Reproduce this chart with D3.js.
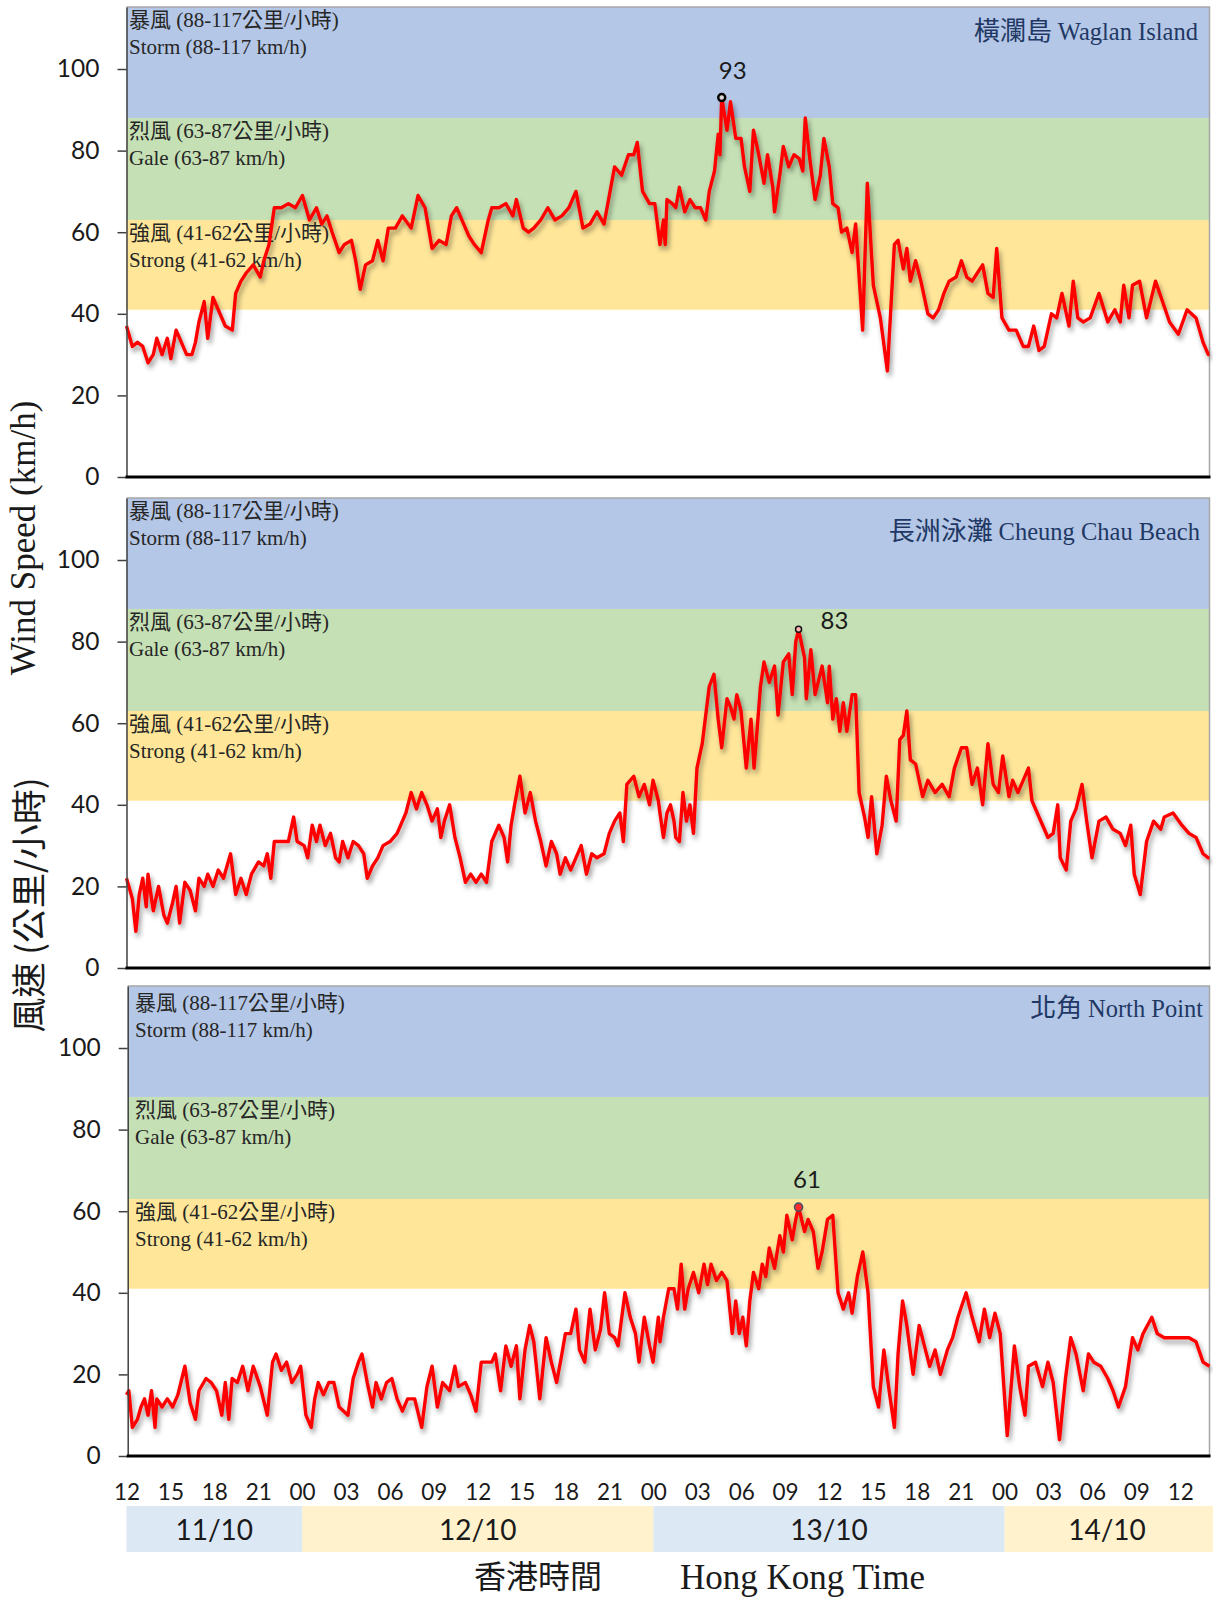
<!DOCTYPE html>
<html>
<head>
<meta charset="utf-8">
<script src="https://cdn.jsdelivr.net/npm/d3@7"></script>
<style>
  html, body { margin: 0; padding: 0; background: #ffffff; }
  svg { display: block; }
</style>
</head>
<body>
<svg id="chart" width="1213" height="1599"></svg>
<script>
// Wind speed (km/h) as [hours after 11/10 12:00 HKT, speed] pairs, to 14/10 14:00
const SPAN_HOURS = 74;

const waglan = [
  [0,37],[0.4,32],[0.75,33],[1.11,32],[1.47,28],[1.83,30],[2.07,34],[2.43,30],[2.79,34],[3.03,29],
  [3.39,36],[3.75,33],[4.11,30],[4.47,30],[4.71,33],[4.95,38],[5.31,43],[5.55,34],[5.91,44],[6.27,41],
  [6.75,37],[7.23,36],[7.46,45],[7.82,48],[8.18,50],[8.66,52],[9.14,49],[9.38,53],[9.74,57],[10.1,66],
  [10.58,66],[11.06,67],[11.54,66],[12.02,69],[12.5,63],[12.98,66],[13.34,62],[13.7,64],[14.05,60],[14.53,55],
  [14.89,57],[15.37,58],[15.66,53],[15.97,46],[16.33,52],[16.81,53],[17.17,58],[17.53,53],[17.89,61],[18.37,61],
  [18.85,64],[19.45,61],[19.92,69],[20.4,66],[20.88,56],[21.36,58],[21.84,57],[22.2,64],[22.56,66],[23.04,62],
  [23.4,59],[23.76,57],[24.24,55],[24.72,63],[24.96,66],[25.44,66],[25.92,67],[26.4,64],[26.64,68],[27.11,61],
  [27.47,60],[27.83,61],[28.31,63],[28.79,66],[29.27,63],[29.75,64],[30.23,66],[30.71,70],[31.19,61],[31.67,62],
  [32.15,65],[32.63,62],[32.99,69],[33.35,76],[33.83,74],[34.3,79],[34.66,79],[34.9,82],[35.26,70],[35.74,67],
  [36.1,67],[36.45,57],[36.69,63],[36.81,57],[36.93,68],[37.29,67],[37.53,66],[37.78,71],[38.14,65],[38.5,68],
  [38.86,66],[39.22,66],[39.58,63],[39.82,70],[40.18,75],[40.43,84],[40.55,79],[40.67,93],[41.03,85],[41.27,92],
  [41.63,83],[41.99,83],[42.23,76],[42.59,70],[42.84,85],[43.2,79],[43.56,72],[43.8,79],[44.16,71],[44.28,65],
  [44.64,74],[44.88,81],[45.25,76],[45.61,79],[45.97,78],[46.21,75],[46.38,88],[46.69,78],[47.05,68],[47.41,74],
  [47.65,83],[48.02,76],[48.26,67],[48.62,66],[48.86,60],[49.22,61],[49.58,55],[49.82,62],[50.3,36],[50.62,72],
  [51.03,47],[51.51,39],[51.99,26],[52.47,57],[52.72,58],[53.08,51],[53.32,56],[53.56,48],[53.92,53],[54.28,48],
  [54.76,40],[55.12,39],[55.49,41],[55.85,45],[56.21,48],[56.69,49],[57.05,53],[57.41,49],[57.78,48],[58.14,50],
  [58.5,52],[58.86,45],[59.22,44],[59.46,56],[59.82,39],[60.3,36],[60.79,36],[61.27,32],[61.63,32],[61.99,37],
  [62.35,31],[62.71,32],[63.2,40],[63.56,39],[63.92,45],[64.4,37],[64.69,48],[65,39],[65.37,38],[65.85,39],
  [66.45,45],[67.05,38],[67.53,41],[67.9,38],[68.14,47],[68.5,39],[68.74,47],[69.22,48],[69.7,39],[70.31,48],
  [70.79,43],[71.27,38],[71.87,35],[72.47,41],[73.08,39],[73.56,33],[73.92,30],[74,30]
];

const cheungChau = [
  [0,22],[0.4,17],[0.64,9],[0.87,18],[1.11,22],[1.35,15],[1.47,23],[1.83,14],[2.19,20],[2.55,13],
  [2.79,11],[3.15,16],[3.39,20],[3.63,11],[3.99,21],[4.35,19],[4.71,14],[4.95,22],[5.31,20],[5.55,23],
  [5.91,20],[6.27,24],[6.63,22],[7.11,28],[7.46,18],[7.82,22],[8.18,18],[8.54,23],[9.02,26],[9.38,25],
  [9.62,28],[9.86,22],[10.1,31],[10.58,31],[11.06,31],[11.42,37],[11.66,31],[12.14,30],[12.38,27],[12.69,35],
  [12.98,31],[13.22,35],[13.58,30],[13.94,33],[14.29,27],[14.53,26],[14.77,31],[15.13,27],[15.49,31],[15.85,30],
  [16.21,28],[16.45,22],[16.81,25],[17.17,27],[17.53,30],[18.01,31],[18.49,33],[18.85,36],[19.09,38],[19.45,43],
  [19.81,39],[20.17,43],[20.53,40],[20.88,36],[21.24,39],[21.48,32],[21.72,36],[22.08,40],[22.44,32],[22.8,27],
  [23.16,21],[23.52,23],[23.88,21],[24.24,23],[24.6,21],[24.96,31],[25.44,35],[25.8,32],[26.04,26],[26.28,35],
  [26.52,40],[26.88,47],[27.23,38],[27.59,43],[27.95,36],[28.31,31],[28.67,25],[29.03,31],[29.39,28],[29.63,23],
  [29.99,27],[30.35,24],[30.71,27],[31.07,30],[31.43,23],[31.79,28],[32.15,27],[32.63,28],[32.99,33],[33.35,36],
  [33.71,38],[33.95,31],[34.19,45],[34.66,47],[35.02,42],[35.38,45],[35.74,40],[35.98,46],[36.34,41],[36.45,38],
  [36.69,32],[36.93,38],[37.17,40],[37.41,36],[37.53,32],[37.78,31],[38.02,43],[38.26,36],[38.5,40],[38.74,33],
  [38.98,49],[39.34,55],[39.58,62],[39.82,69],[40.14,72],[40.43,61],[40.67,54],[41.03,66],[41.27,64],[41.51,61],
  [41.7,67],[41.99,63],[42.35,49],[42.67,61],[42.88,49],[43.32,69],[43.56,75],[43.92,70],[44.28,74],[44.52,62],
  [44.88,75],[45.25,77],[45.49,67],[45.73,80],[45.92,83],[46.33,76],[46.45,66],[46.76,78],[47.05,67],[47.53,74],
  [47.9,65],[48.02,74],[48.26,61],[48.5,66],[48.74,58],[48.98,65],[49.22,58],[49.58,67],[49.82,67],[50.06,43],
  [50.43,37],[50.67,32],[50.91,42],[51.27,28],[51.63,35],[51.92,47],[52.23,41],[52.59,36],[52.84,56],[53.08,57],
  [53.32,63],[53.56,51],[53.92,50],[54.4,42],[54.76,46],[55.25,43],[55.73,45],[56.21,42],[56.57,49],[57.05,54],
  [57.41,54],[57.78,45],[58.14,49],[58.5,40],[58.86,55],[59.22,45],[59.58,43],[59.87,52],[60.3,42],[60.55,46],
  [60.91,43],[61.27,46],[61.63,49],[61.87,41],[62.35,37],[62.96,32],[63.32,33],[63.63,40],[63.8,27],[64.21,24],
  [64.52,36],[64.88,39],[65.29,45],[65.61,36],[65.97,27],[66.45,36],[66.93,37],[67.41,34],[67.9,33],[68.26,30],
  [68.62,35],[68.86,23],[69.27,18],[69.7,31],[70.18,36],[70.67,34],[70.91,37],[71.51,38],[72.11,35],[72.6,33],
  [73.08,32],[73.56,28],[73.92,27],[74,27]
];

const northPoint = [
  [0,15],[0.16,16],[0.4,7],[0.75,9],[0.99,12],[1.23,14],[1.47,10],[1.71,16],[1.95,7],[2.07,14],
  [2.43,12],[2.79,14],[3.15,12],[3.51,15],[3.99,22],[4.35,13],[4.71,9],[4.95,16],[5.43,19],[5.79,18],
  [6.15,16],[6.51,10],[6.75,18],[6.99,9],[7.22,19],[7.58,18],[7.94,22],[8.3,16],[8.66,22],[9.14,17],
  [9.62,10],[9.98,23],[10.22,25],[10.58,21],[10.94,23],[11.3,18],[11.66,20],[11.9,22],[12.26,10],[12.62,7],
  [12.86,14],[13.1,18],[13.46,15],[13.82,18],[14.17,18],[14.53,12],[15.13,10],[15.49,19],[15.85,23],[16.09,25],
  [16.45,18],[16.81,12],[17.05,18],[17.41,14],[17.77,18],[18.13,19],[18.49,14],[18.85,11],[19.21,14],[19.69,14],
  [20.17,7],[20.53,17],[20.88,22],[21.24,12],[21.6,18],[22.08,16],[22.44,22],[22.68,17],[23.16,18],[23.52,15],
  [23.88,11],[24.24,23],[24.6,23],[24.96,23],[25.2,25],[25.56,16],[25.92,27],[26.28,22],[26.64,27],[26.88,14],
  [27.23,26],[27.55,32],[27.83,28],[28.24,14],[28.67,29],[29.03,23],[29.39,18],[29.75,25],[29.99,30],[30.35,30],
  [30.71,36],[30.95,26],[31.31,23],[31.67,36],[32.03,26],[32.39,31],[32.67,40],[32.99,30],[33.35,29],[33.59,27],
  [34.06,40],[34.42,34],[34.78,30],[35.02,23],[35.38,34],[35.74,27],[35.98,23],[36.34,34],[36.45,28],[36.69,34],
  [37.05,41],[37.41,41],[37.65,36],[37.9,47],[38.14,36],[38.38,41],[38.74,45],[39.1,40],[39.46,47],[39.7,42],
  [39.94,47],[40.31,43],[40.67,45],[41.03,43],[41.39,30],[41.63,38],[41.87,30],[42.11,34],[42.35,27],[42.59,38],
  [42.84,45],[43.2,41],[43.44,47],[43.68,44],[43.92,51],[44.28,46],[44.64,54],[44.88,50],[45.12,59],[45.49,53],
  [45.73,58],[45.92,61],[46.33,55],[46.57,58],[46.93,55],[47.25,46],[47.53,50],[47.9,58],[48.26,59],[48.62,40],
  [48.98,36],[49.34,40],[49.58,35],[49.94,44],[50.31,50],[50.67,40],[51.03,17],[51.39,12],[51.75,26],[52.11,16],
  [52.47,7],[52.72,25],[53.03,38],[53.32,32],[53.75,20],[54.16,32],[54.52,27],[54.88,22],[55.25,26],[55.61,20],
  [56.09,26],[56.45,29],[56.81,34],[57.37,40],[57.78,34],[58.26,28],[58.62,36],[58.98,29],[59.34,35],[59.7,30],
  [60.18,5],[60.67,27],[61.03,17],[61.39,10],[61.63,22],[62.11,23],[62.59,17],[62.96,23],[63.32,18],[63.75,4],
  [64.16,19],[64.52,29],[64.88,25],[65.37,16],[65.73,25],[66.09,23],[66.57,22],[67.05,19],[67.41,16],[67.78,12],
  [68.26,17],[68.74,29],[69.1,26],[69.46,30],[70.06,34],[70.43,30],[70.91,29],[71.51,29],[72.11,29],[72.6,29],
  [73.08,28],[73.56,23],[74,22]
];

const stationNamesZh = ["橫瀾島", "長洲泳灘", "北角"];
const stationNamesEn = ["Waglan Island", "Cheung Chau Beach", "North Point"];
const stationSeries = [waglan, cheungChau, northPoint];

// wind categories shaded behind each panel
const windBandNamesZh = ["暴風 (88-117公里/小時)", "烈風 (63-87公里/小時)", "強風 (41-62公里/小時)"];
const windBandNamesEn = ["Storm (88-117 km/h)", "Gale (63-87 km/h)", "Strong (41-62 km/h)"];
const windBandLow = [88, 63, 41];
const windBandHigh = [115.2, 88, 63];

const yTicks = [0, 20, 40, 60, 80, 100];
const Y_MAX = 115.2;

const hourTickValues = d3.range(0, 73, 3);
const hourTickLabels = ["12","15","18","21","00","03","06","09","12","15","18","21",
                        "00","03","06","09","12","15","18","21","00","03","06","09","12"];

const dateLabels = ["11/10", "12/10", "13/10", "14/10"];
const dateStart = [0, 12, 36, 60];
const dateEnd = [12, 36, 60, 74.25];

// ---- presentation ----
const svg = d3.select("#chart");
const bandFill = ["#b4c7e7", "#c5e0b4", "#ffe699"];
const dateFill = ["#dde8f5", "#fff2cc", "#dde8f5", "#fff2cc"];
const SANS = "Lato, 'Open Sans', sans-serif";
const SERIF = "'Liberation Serif', 'Noto Sans CJK TC', serif";
const CJK = "'Noto Sans CJK TC', sans-serif";
const TIMES = "'Liberation Serif', serif";

const panels = [
  { top: 7,   left: 126.5, labelX: 129, stormDy: 20, titleBase: 40,   titleRight: 1198 },
  { top: 498, left: 126.5, labelX: 129, stormDy: 20, titleBase: 540,  titleRight: 1200 },
  { top: 986, left: 127.7, labelX: 135, stormDy: 24, titleBase: 1017, titleRight: 1203 }
];
const PANEL_H = 470;
const RIGHT = 1209.5;

const peakStyle = [
  { r: 3.5, stroke: "#000", sw: 2.4, fill: "#d9d9d9", dx: 11, dy: -19 },
  { r: 3,   stroke: "#111", sw: 1.5, fill: "#ffb3b3", dx: 36, dy: 0 },
  { r: 4,   stroke: "#44546a", sw: 1.6, fill: "#ff2a2a", dx: 8.5, dy: -19 }
];

const x = d3.scaleLinear().domain([0, SPAN_HOURS]).range([126.5, RIGHT]);

// soft drop shadow under the wind trace
const defs = svg.append("defs");
const f = defs.append("filter").attr("id", "shadow")
  .attr("x", "-5%").attr("y", "-10%").attr("width", "115%").attr("height", "130%");
f.append("feGaussianBlur").attr("in", "SourceAlpha").attr("stdDeviation", 2.4);
f.append("feOffset").attr("dx", 2).attr("dy", 4).attr("result", "ob");
f.append("feFlood").attr("flood-color", "#000").attr("flood-opacity", 0.4);
f.append("feComposite").attr("in2", "ob").attr("operator", "in");
const fm = f.append("feMerge");
fm.append("feMergeNode");
fm.append("feMergeNode").attr("in", "SourceGraphic");

panels.forEach((p, i) => {
  const g = svg.append("g");
  const y = d3.scaleLinear().domain([0, Y_MAX]).range([p.top + PANEL_H, p.top]);
  const series = stationSeries[i];

  // wind category bands and their captions
  windBandLow.forEach((lo, b) => {
    g.append("rect")
      .attr("x", p.left).attr("width", RIGHT - p.left)
      .attr("y", y(windBandHigh[b])).attr("height", y(lo) - y(windBandHigh[b]))
      .attr("fill", bandFill[b]);
    const bandTop = y(windBandHigh[b]);
    const dy1 = b === 0 ? p.stormDy : 20;
    g.append("text")
      .attr("x", p.labelX).attr("y", bandTop + dy1)
      .attr("font-family", SERIF).attr("font-size", 21).attr("fill", "#262626")
      .text(windBandNamesZh[b]);
    g.append("text")
      .attr("x", p.labelX).attr("y", bandTop + dy1 + 27)
      .attr("font-family", SERIF).attr("font-size", 21).attr("fill", "#262626")
      .text(windBandNamesEn[b]);
  });

  // light top/right border
  g.append("path")
    .attr("d", `M${p.left},${p.top}H${RIGHT}V${y(0)}`)
    .attr("fill", "none").attr("stroke", "#a6a6a6").attr("stroke-width", 1.5);

  // station title
  const t = g.append("text")
    .attr("x", p.titleRight).attr("y", p.titleBase)
    .attr("text-anchor", "end").attr("fill", "#1f3864");
  t.append("tspan").attr("font-family", CJK).attr("font-size", 26).text(stationNamesZh[i] + " ");
  t.append("tspan").attr("font-family", TIMES).attr("font-size", 24.5).text(stationNamesEn[i]);

  // wind trace
  const line = d3.line()
    .x(d => x(d[0]))
    .y(d => y(d[1]));
  g.append("path")
    .datum(series)
    .attr("d", line)
    .attr("fill", "none").attr("stroke", "#ff0000")
    .attr("stroke-width", 3.4).attr("stroke-linejoin", "round")
    .attr("filter", "url(#shadow)");

  // y axis
  const ya = g.append("g").attr("transform", `translate(${p.left},0)`)
    .call(d3.axisLeft(y).tickValues(yTicks).tickSize(9).tickSizeOuter(0).tickPadding(18));
  ya.select(".domain").attr("stroke", "#404040").attr("stroke-width", 1.5);
  ya.selectAll(".tick line").attr("stroke", "#404040").attr("stroke-width", 1.5);
  ya.selectAll(".tick text").attr("font-family", SANS).attr("font-size", 24.5).attr("fill", "#1a1a1a");

  // zero line
  g.append("line")
    .attr("x1", p.left - 1).attr("x2", RIGHT + 1)
    .attr("y1", y(0)).attr("y2", y(0))
    .attr("stroke", "#000").attr("stroke-width", 3);

  // peak marker and its value
  const k = d3.maxIndex(series, d => d[1]);
  const ps = peakStyle[i];
  const px = x(series[k][0]), py = y(series[k][1]);
  g.append("circle").attr("cx", px).attr("cy", py).attr("r", ps.r)
    .attr("fill", ps.fill).attr("stroke", ps.stroke).attr("stroke-width", ps.sw);
  g.append("text").attr("x", px + ps.dx).attr("y", py + ps.dy)
    .attr("text-anchor", "middle")
    .attr("font-family", SANS).attr("font-size", 24).attr("fill", "#1a1a1a")
    .text(series[k][1]);
});

// hour ticks
const xa = svg.append("g").attr("transform", "translate(0,1480)")
  .call(d3.axisBottom(x).tickValues(hourTickValues)
    .tickFormat((d, i) => hourTickLabels[i]).tickSize(0).tickPadding(0));
xa.select(".domain").remove();
xa.selectAll(".tick text")
  .attr("y", 20).attr("dy", 0)
  .attr("font-family", SANS).attr("font-size", 22.5).attr("fill", "#1a1a1a");

// date strip
dateLabels.forEach((lab, i) => {
  svg.append("rect")
    .attr("x", x(dateStart[i])).attr("width", x(dateEnd[i]) - x(dateStart[i]))
    .attr("y", 1506).attr("height", 46)
    .attr("fill", dateFill[i]);
  svg.append("text")
    .attr("x", (x(dateStart[i]) + Math.min(x(dateEnd[i]), x(SPAN_HOURS))) / 2)
    .attr("y", 1540)
    .attr("text-anchor", "middle")
    .attr("font-family", SANS).attr("font-size", 28).attr("fill", "#1a1a1a")
    .text(lab);
});

// axis titles
svg.append("text").attr("x", 538).attr("y", 1588).attr("text-anchor", "middle")
  .attr("font-family", CJK).attr("font-size", 32).attr("fill", "#1a1a1a").text("香港時間");
svg.append("text").attr("x", 680).attr("y", 1589)
  .attr("font-family", TIMES).attr("font-size", 35).attr("fill", "#1a1a1a")
  .text("Hong Kong Time");

svg.append("text").attr("transform", "translate(42,905) rotate(-90)")
  .attr("text-anchor", "middle")
  .attr("font-family", CJK).attr("font-size", 35).attr("fill", "#1a1a1a")
  .text("風速 (公里/小時)");
svg.append("text").attr("transform", "translate(35,538) rotate(-90)")
  .attr("text-anchor", "middle")
  .attr("font-family", TIMES).attr("font-size", 35).attr("fill", "#1a1a1a")
  .text("Wind Speed (km/h)");
</script>
</body>
</html>
